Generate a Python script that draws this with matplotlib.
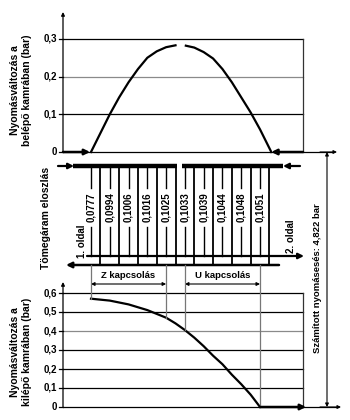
import numpy as np
import matplotlib
matplotlib.use("Agg")
import matplotlib.pyplot as plt

plt.rcParams['font.family'] = ['Liberation Sans', 'DejaVu Sans']

# ---------------- data ----------------
tube_flow = ["0,0777", "0,0994", "0,1006", "0,1016", "0,1025",
             "0,1033", "0,1039", "0,1044", "0,1048", "0,1051"]
tube_pos = list(range(10))

inlet_left_x = [0, 0.5, 1.0, 1.5, 2.0, 2.5, 3.0, 3.5, 4.0, 4.5]
inlet_left_p = [0, 0.05, 0.10, 0.145, 0.185, 0.22, 0.25, 0.267, 0.278, 0.283]
inlet_right_x = [5.05, 5.5, 6.0, 6.5, 7.0, 7.5, 8.0, 8.5, 9.0, 9.5, 9.6]
inlet_right_p = [0.282, 0.277, 0.265, 0.248, 0.22, 0.185, 0.145, 0.105, 0.06, 0.01, 0]

outlet_x = [0, 1, 2, 3, 4, 4.5, 5, 5.5, 6, 6.5, 7, 7.5, 8, 8.5, 9]
outlet_p = [0.57, 0.56, 0.54, 0.51, 0.47, 0.44, 0.405, 0.365, 0.32, 0.27,
            0.225, 0.17, 0.12, 0.065, 0.0]

top_ticks = [0, 0.1, 0.2, 0.3]
top_ticklabels = ["0", "0,1", "0,2", "0,3"]
bot_ticks = [0, 0.1, 0.2, 0.3, 0.4, 0.5, 0.6]
bot_ticklabels = ["0", "0,1", "0,2", "0,3", "0,4", "0,5", "0,6"]

z_span = [0, 4]
u_span = [5, 9]

# ---------------- layout ----------------
W, H = 350, 420
X0, DX = 91.0, 18.78


def tx(px):
    return (px - X0) / DX


fig = plt.figure(figsize=(W / 100, H / 100), dpi=100)

# overlay (schematic) axes: x in tube units, y in pixels
ov = fig.add_axes([0, 0, 1, 1])
ov.set_xlim(tx(0), tx(W))
ov.set_ylim(H, 0)
ov.axis('off')

XL, XR = tx(63), tx(303)

# top chart
TOP_SCALE = 377.0
axt = fig.add_axes([63 / W, 1 - 152 / H, 240 / W, 140 / H])
axt.set_xlim(XL, XR)
axt.set_ylim(0, 140 / TOP_SCALE)

# bottom chart
BOT_SCALE = 190.0
axb = fig.add_axes([63 / W, 1 - 407 / H, 240 / W, 125 / H])
axb.set_xlim(XL, XR)
axb.set_ylim(0, 125 / BOT_SCALE)

for ax in (axt, axb):
    ax.axis('off')
    ax.patch.set_alpha(0)

FS_TICK = 7


def chart_frame(ax, ticks, labels, gray_tick, ymax):
    top = ticks[-1]
    for t in ticks[1:]:
        col = '#8a8a8a' if abs(t - gray_tick) < 1e-9 else 'black'
        ax.plot([XL, XR], [t, t], color=col, lw=0.9, clip_on=False)
    ax.plot([XR, XR], [0, top], color='#333333', lw=0.9, clip_on=False)
    ax.annotate('', xy=(XL, ymax), xytext=(XL, 0),
                arrowprops=dict(arrowstyle='-|>', lw=0.9, color='black',
                                mutation_scale=5, shrinkA=0, shrinkB=0),
                annotation_clip=False)
    for t, lab in zip(ticks, labels):
        ax.plot([XL - 4 / DX, XL], [t, t], color='black', lw=0.9, clip_on=False)
        ax.text(XL - 6 / DX, t, lab, ha='right', va='center',
                fontsize=FS_TICK, fontweight='bold', clip_on=False)


chart_frame(axt, top_ticks, top_ticklabels, 0.2, 140 / TOP_SCALE)
chart_frame(axb, bot_ticks, bot_ticklabels, 0.4, 125 / BOT_SCALE)

# curves
axt.plot(inlet_left_x, inlet_left_p, color='black', lw=1.6, clip_on=False)
axt.plot(inlet_right_x, inlet_right_p, color='black', lw=1.6, clip_on=False)
axb.plot(outlet_x, outlet_p, color='black', lw=1.6, clip_on=False)

# baselines
axt.plot([XL, tx(333)], [0, 0], color='black', lw=0.9, clip_on=False)
axt.annotate('', xy=(tx(337), 0), xytext=(tx(320), 0),
             arrowprops=dict(arrowstyle='-|>', lw=0.8, color='black',
                             mutation_scale=5, shrinkA=0, shrinkB=0),
             annotation_clip=False)
thick = dict(arrowstyle='-|>', lw=1.8, color='black', mutation_scale=8,
             shrinkA=0, shrinkB=0)
axt.annotate('', xy=(inlet_left_x[0] - 0.05, 0), xytext=(XL, 0),
             arrowprops=thick, annotation_clip=False)
axt.annotate('', xy=(inlet_right_x[-1], 0), xytext=(XR, 0),
             arrowprops=thick, annotation_clip=False)

axb.plot([XL, tx(338)], [0, 0], color='black', lw=0.9, clip_on=False)
axb.annotate('', xy=(tx(341), 0), xytext=(tx(320), 0),
             arrowprops=dict(arrowstyle='-|>', lw=0.8, color='black',
                             mutation_scale=5, shrinkA=0, shrinkB=0),
             annotation_clip=False)
axb.annotate('', xy=(tx(306), 0), xytext=(outlet_x[-1], 0),
             arrowprops=thick, annotation_clip=False)

# Z / U dimension vertical lines (down to outlet curve)
dim_top = (407 - 265) / BOT_SCALE
for xv in z_span + u_span:
    yv = float(np.interp(xv, outlet_x, outlet_p))
    axb.plot([xv, xv], [yv, dim_top], color='#777777', lw=0.9, clip_on=False)

dimarrow = dict(arrowstyle='<|-|>', lw=0.8, color='black', mutation_scale=5,
                shrinkA=0, shrinkB=0)
for span, lab in ((z_span, "Z kapcsolás"), (u_span, "U kapcsolás")):
    ov.annotate('', xy=(span[0], 284), xytext=(span[1], 284), arrowprops=dimarrow)
    ov.text((span[0] + span[1]) / 2, 275, lab, ha='center', va='center',
            fontsize=6.8, fontweight='bold')

# ---------------- manifold schematic ----------------
Y_IN, Y_OUT1, Y_OUT2 = 166, 256, 265
ov.plot([tx(73), tx(177)], [Y_IN, Y_IN], color='black', lw=3.2, solid_capstyle='butt')
ov.plot([tx(182), tx(283)], [Y_IN, Y_IN], color='black', lw=3.2, solid_capstyle='butt')
inarrow = dict(arrowstyle='-|>', lw=1.6, color='black', mutation_scale=8,
               shrinkA=0, shrinkB=0)
ov.annotate('', xy=(tx(74), Y_IN), xytext=(tx(58), Y_IN), arrowprops=inarrow)
ov.annotate('', xy=(tx(283), Y_IN), xytext=(tx(300), Y_IN), arrowprops=inarrow)

for xp, lab in zip(tube_pos, tube_flow):
    ov.plot([xp, xp], [Y_IN, 188], color='black', lw=1.0)
    ov.plot([xp, xp], [227, Y_OUT1], color='black', lw=1.0)
    ov.text(xp, 207.5, lab, rotation=90, ha='center', va='center',
            fontsize=7, fontweight='bold')
    ov.plot([xp + 0.5, xp + 0.5], [Y_IN, Y_OUT2], color='black', lw=1.3)

ov.annotate('', xy=(tx(304), Y_OUT1), xytext=(tx(87), Y_OUT1),
            arrowprops=dict(arrowstyle='-|>', lw=1.6, color='black',
                            mutation_scale=8, shrinkA=0, shrinkB=0))
ov.annotate('', xy=(tx(66), Y_OUT2), xytext=(tx(279), Y_OUT2),
            arrowprops=dict(arrowstyle='-|>', lw=1.8, color='black',
                            mutation_scale=8, shrinkA=0, shrinkB=0))

# computed pressure drop arrow
ov.annotate('', xy=(tx(327), 152), xytext=(tx(327), 407),
            arrowprops=dict(arrowstyle='<|-|>', lw=0.8, color='black',
                            mutation_scale=5, shrinkA=0, shrinkB=0))

# ---------------- texts ----------------
ov.text(tx(21), 90, "Nyomásváltozás a\nbelépő kamrában (bar)", rotation=90,
        ha='center', va='center', multialignment='center', fontsize=7.5,
        fontweight='bold', linespacing=1.25)
ov.text(tx(21), 352, "Nyomásváltozás a\nkilépő kamrában (bar)", rotation=90,
        ha='center', va='center', multialignment='center', fontsize=7.5,
        fontweight='bold', linespacing=1.25)
ov.text(tx(46), 218, "Tömegáram eloszlás", rotation=90, ha='center',
        va='center', fontsize=7.5, fontweight='bold')
ov.text(tx(82), 241, "1. oldal", rotation=90, ha='center', va='center',
        fontsize=7, fontweight='bold')
ov.text(tx(291), 236, "2. oldal", rotation=90, ha='center', va='center',
        fontsize=7, fontweight='bold')
ov.text(tx(318), 278, "Számított nyomásesés: 4,822 bar", rotation=90,
        ha='center', va='center', fontsize=6.8, fontweight='bold')

fig.savefig("out.png", dpi=100, facecolor='white')
